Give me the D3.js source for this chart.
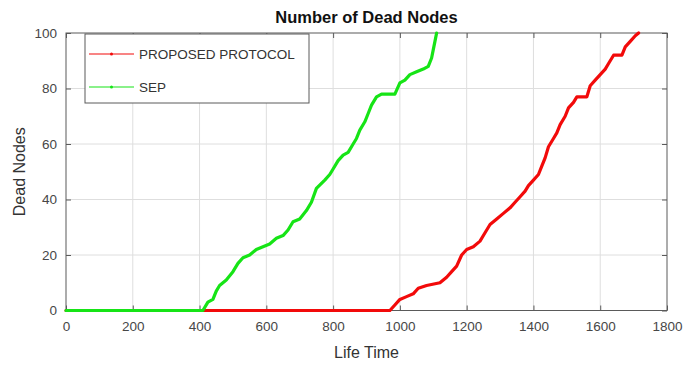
<!DOCTYPE html>
<html>
<head>
<meta charset="utf-8">
<script src="https://cdn.jsdelivr.net/npm/d3@7"></script>
<style>
  html, body { margin: 0; padding: 0; background: #fff; }
  svg { display: block; font-family: "Liberation Sans", Arial, Helvetica, sans-serif; }
</style>
</head>
<body>
<svg id="chart" width="684" height="365"></svg>
<script>
// Number of dead nodes recorded at each lifetime sample
const proposedTime  = [0, 970, 985, 1000, 1020, 1040, 1055, 1080, 1120, 1140, 1155, 1170, 1185, 1200, 1220, 1240, 1255, 1270, 1290, 1310, 1330, 1345, 1360, 1375, 1385, 1400, 1415, 1425, 1435, 1445, 1460, 1470, 1480, 1495, 1505, 1520, 1530, 1560, 1570, 1585, 1600, 1615, 1625, 1640, 1665, 1675, 1690, 1705, 1715];
const proposedDead  = [0,   0,   2,    4,    5,    6,    8,    9,   10,   12,   14,   16,   20,   22,   23,   25,   28,   31,   33,   35,   37,   39,   41,   43,   45,   47,   49,   52,   55,   59,   62,   64,   67,   70,   73,   75,   77,   77,   81,   83,   85,   87,   89,   92,   92,   95,   97,   99,  100];

const sepTime = [0, 410, 425, 440, 450, 460, 480, 500, 515, 530, 550, 570, 590, 610, 630, 650, 665, 680, 700, 720, 735, 750, 775, 790, 800, 815, 830, 845, 860, 870, 880, 895, 905, 915, 930, 945, 985, 1000, 1015, 1030, 1050, 1070, 1085, 1095, 1100, 1105, 1110];
const sepDead = [0,   0,   3,   4,   7,   9,  11,  14,  17,  19,  20,  22,  23,  24,  26,  27,  29,  32,  33,  36,  39,  44,  47,  49,  51,  54,  56,  57,  60,  62,  65,  68,  71,  74,  77,  78,  78,   82,   83,   85,   86,   87,   88,   91,   94,   97,  100];

const xTicks = [0, 200, 400, 600, 800, 1000, 1200, 1400, 1600, 1800];
const yTicks = [0, 20, 40, 60, 80, 100];

const seriesNames  = ["PROPOSED PROTOCOL", "SEP"];
const seriesColors = ["#f20a0a", "#16e416"];

const svg = d3.select("#chart");
const plotL = 66, plotR = 667, plotT = 33, plotB = 310.5;

const x = d3.scaleLinear().domain([0, 1800]).range([plotL, plotR]);
const y = d3.scaleLinear().domain([0, 100]).range([plotB, plotT]);

// grid
const grid = svg.append("g");
grid.selectAll("line.gx").data(xTicks.slice(1, -1)).join("line")
  .attr("x1", d => x(d)).attr("x2", d => x(d))
  .attr("y1", plotT).attr("y2", plotB)
  .attr("stroke", "#dedede").attr("stroke-width", 1);
grid.selectAll("line.gy").data(yTicks.slice(1, -1)).join("line")
  .attr("y1", d => y(d)).attr("y2", d => y(d))
  .attr("x1", plotL).attr("x2", plotR)
  .attr("stroke", "#dedede").attr("stroke-width", 1);

// axes with inward ticks on every side
const axisColor = "#5a5a5a";
function styleAxis(g) {
  g.select(".domain").remove();
  g.selectAll(".tick line").attr("stroke", axisColor);
  g.selectAll(".tick text").attr("fill", "#474747")
    .attr("font-size", "13.5px")
    .attr("font-family", "'Liberation Sans', Arial, sans-serif");
}
svg.append("g").attr("transform", `translate(0,${plotB})`)
  .call(d3.axisBottom(x).tickValues(xTicks).tickSize(-5).tickPadding(11).tickFormat(d3.format("d")))
  .call(styleAxis);
svg.append("g").attr("transform", `translate(0,${plotT})`)
  .call(d3.axisTop(x).tickValues(xTicks).tickSize(-5).tickFormat(""))
  .call(styleAxis);
svg.append("g").attr("transform", `translate(${plotL},0)`)
  .call(d3.axisLeft(y).tickValues(yTicks).tickSize(-5).tickPadding(9).tickFormat(d3.format("d")))
  .call(styleAxis);
svg.append("g").attr("transform", `translate(${plotR},0)`)
  .call(d3.axisRight(y).tickValues(yTicks).tickSize(-5).tickFormat(""))
  .call(styleAxis);

// plot box
svg.append("rect")
  .attr("x", plotL).attr("y", plotT)
  .attr("width", plotR - plotL).attr("height", plotB - plotT)
  .attr("fill", "none").attr("stroke", axisColor).attr("stroke-width", 1);

// series
const line = d3.line().x(d => x(d[0])).y(d => y(d[1]));
const proposed = proposedTime.map((t, i) => [t, proposedDead[i]]);
const sep = sepTime.map((t, i) => [t, sepDead[i]]);

svg.append("path").datum(proposed)
  .attr("d", line).attr("fill", "none")
  .attr("stroke", seriesColors[0]).attr("stroke-width", 3.2)
  .attr("stroke-linejoin", "round").attr("stroke-linecap", "round");
svg.append("path").datum(sep)
  .attr("d", line).attr("fill", "none")
  .attr("stroke", seriesColors[1]).attr("stroke-width", 3.2)
  .attr("stroke-linejoin", "round").attr("stroke-linecap", "round");

// title and axis labels
svg.append("text").attr("x", (plotL + plotR) / 2).attr("y", 23)
  .attr("text-anchor", "middle").attr("font-weight", "bold")
  .attr("font-size", "16.5px").attr("fill", "#111")
  .text("Number of Dead Nodes");
svg.append("text").attr("x", (plotL + plotR) / 2).attr("y", 358)
  .attr("text-anchor", "middle").attr("font-size", "16px").attr("fill", "#333")
  .text("Life Time");
svg.append("text")
  .attr("transform", `translate(25,${(plotT + plotB) / 2}) rotate(-90)`)
  .attr("text-anchor", "middle").attr("font-size", "16px").attr("fill", "#333")
  .text("Dead Nodes");

// legend
const lg = svg.append("g");
lg.append("rect").attr("x", 85).attr("y", 34).attr("width", 224).attr("height", 69)
  .attr("fill", "#fff").attr("stroke", axisColor).attr("stroke-width", 1);
const rowsY = [54, 87];
seriesNames.forEach((name, i) => {
  lg.append("line").attr("x1", 89).attr("x2", 134)
    .attr("y1", rowsY[i]).attr("y2", rowsY[i])
    .attr("stroke", seriesColors[i]).attr("stroke-width", 1.2);
  lg.append("circle").attr("cx", 111.5).attr("cy", rowsY[i]).attr("r", 1.5)
    .attr("fill", seriesColors[i]);
  lg.append("text").attr("x", 139).attr("y", rowsY[i]).attr("dy", "0.36em")
    .attr("font-size", "13.5px").attr("fill", "#333").text(name);
});
</script>
</body>
</html>
